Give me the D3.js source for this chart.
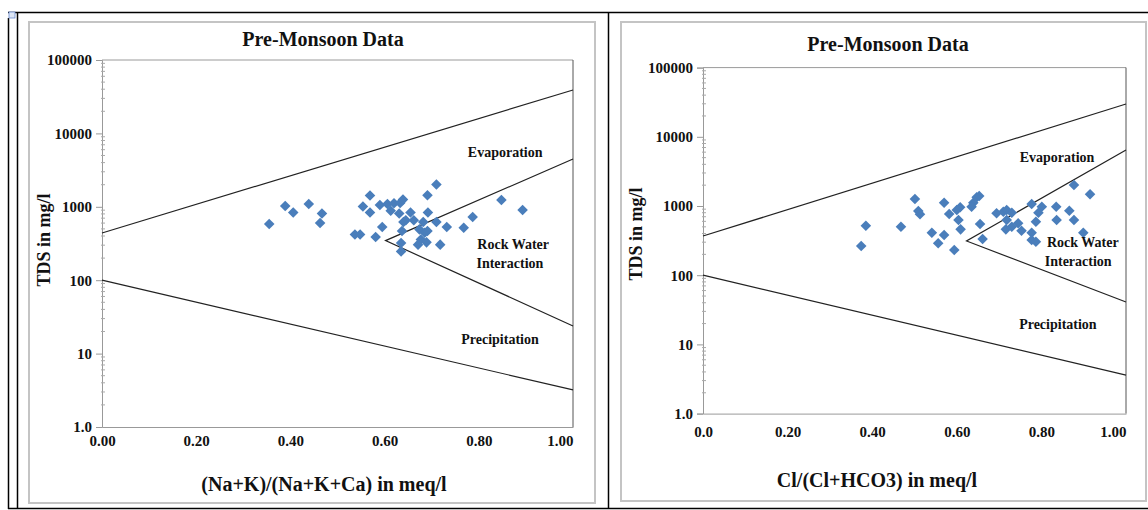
<!DOCTYPE html>
<html>
<head>
<meta charset="utf-8">
<script src="https://cdn.jsdelivr.net/npm/d3@7"></script>
<style>
body { margin: 0; background: #fff; }
text { font-family: "Liberation Serif", "Times New Roman", serif; font-weight: bold; fill: #111; }
</style>
</head>
<body>
<div id="chart"></div>
<script>
// Gibbs plots, pre-monsoon
var chartTitle = "Pre-Monsoon Data";
var yTitle = "TDS in mg/l";
var yTicks = [1, 10, 100, 1000, 10000, 100000];
var yTickLabels = ["1.0", "10", "100", "1000", "10000", "100000"];
var xTicks = [0, 0.2, 0.4, 0.6, 0.8, 1.0];
var xTickLabelsNa = ["0.00", "0.20", "0.40", "0.60", "0.80", "1.00"];
var xTickLabelsCl = ["0.0", "0.20", "0.40", "0.60", "0.80", "1.00"];
var zoneNames = ["Evaporation", "Rock Water", "Interaction", "Precipitation"];

// cation plot
var naRatio = [0.355, 0.389, 0.406, 0.439, 0.467, 0.463, 0.537, 0.548, 0.569, 0.554,
    0.569, 0.590, 0.606, 0.620, 0.633, 0.639, 0.691, 0.613, 0.631, 0.655,
    0.645, 0.662, 0.640, 0.692, 0.682, 0.710, 0.595, 0.637, 0.581, 0.674,
    0.685, 0.691, 0.677, 0.689, 0.671, 0.718, 0.635, 0.635, 0.732, 0.768,
    0.787, 0.848, 0.893, 0.710];
var naTds = [583, 1026, 836, 1091, 811, 601, 420, 420, 1426, 1012,
    836, 1059, 1091, 1117, 1127, 1253, 1439, 883, 811, 836,
    655, 655, 621, 836, 621, 621, 531, 468, 388, 492,
    443, 468, 358, 328, 305, 305, 321, 247, 531, 519,
    726, 1238, 904, 2018];
var naUpper = [[0, 440], [1, 39000]];
var naLower = [[0, 100], [1, 3.2]];
var naWedge = [[1, 4480], [0.602, 346], [1, 23.8]];

// anion plot
var clRatio = [0.385, 0.374, 0.468, 0.501, 0.509, 0.513, 0.541, 0.556, 0.570, 0.582,
    0.570, 0.594, 0.600, 0.608, 0.604, 0.609, 0.639, 0.647, 0.653, 0.635,
    0.655, 0.661, 0.694, 0.710, 0.718, 0.730, 0.718, 0.716, 0.730, 0.745,
    0.753, 0.777, 0.801, 0.793, 0.787, 0.777, 0.777, 0.787, 0.835, 0.836,
    0.866, 0.877, 0.877, 0.915, 0.899];
var clTds = [519, 264, 502, 1262, 847, 759, 411, 289, 1116, 766,
    381, 231, 875, 958, 628, 460, 1116, 1336, 1396, 977,
    550, 334, 785, 828, 875, 800, 628, 460, 502, 562,
    440, 1069, 977, 800, 593, 411, 323, 305, 977, 628,
    855, 628, 2009, 1475, 411];
var clUpper = [[0, 368], [1, 29800]];
var clLower = [[0, 100], [1, 3.6]];
var clWedge = [[1, 6440], [0.623, 312], [1, 41]];

var svg = d3.select("#chart")
    .append("svg")
    .attr("width", 1148)
    .attr("height", 510);

// table borders of the source document
var border = svg.append("g").attr("stroke", "#000").attr("stroke-width", 1.5);
border.append("line").attr("x1", 8).attr("x2", 1148).attr("y1", 12.5).attr("y2", 12.5);
border.append("line").attr("x1", 8).attr("x2", 1148).attr("y1", 508.5).attr("y2", 508.5);
border.append("line").attr("x1", 8.5).attr("x2", 8.5).attr("y1", 18).attr("y2", 509);
border.append("line").attr("x1", 17.5).attr("x2", 17.5).attr("y1", 12).attr("y2", 509);
border.append("line").attr("x1", 608.5).attr("x2", 608.5).attr("y1", 12).attr("y2", 509);
svg.append("rect").attr("x", 9).attr("y", 12).attr("width", 6).attr("height", 6)
    .attr("fill", "#dde6f5").attr("stroke", "#6c8ccf").attr("stroke-width", 0.8);

function drawChart(cfg) {
    var x = d3.scaleLinear().domain([0, 1]).range([cfg.left, cfg.right]),
        y = d3.scaleLog().domain([1, 100000]).range([cfg.bottom, cfg.top]);

    var g = svg.append("g");

    g.append("rect")
        .attr("x", cfg.frame[0]).attr("y", cfg.frame[1])
        .attr("width", cfg.frame[2] - cfg.frame[0])
        .attr("height", cfg.frame[3] - cfg.frame[1])
        .attr("fill", "#fff")
        .attr("stroke", "#c4c4c4")
        .attr("stroke-width", 2);

    // plot box: top grey, right dark
    g.append("line")
        .attr("x1", cfg.left).attr("x2", cfg.right)
        .attr("y1", cfg.top).attr("y2", cfg.top)
        .attr("stroke", "#9a9a9a");
    g.append("line")
        .attr("x1", cfg.right).attr("x2", cfg.right)
        .attr("y1", cfg.top).attr("y2", cfg.bottom)
        .attr("stroke", "#555");

    var yAxis = g.append("g")
        .attr("transform", "translate(" + cfg.left + ",0)")
        .call(d3.axisLeft(y)
            .tickValues(yTicks)
            .tickFormat(function (d, i) { return yTickLabels[i]; })
            .tickSize(6)
            .tickPadding(4))
        .attr("font-size", 15);
    yAxis.selectAll("path, line").attr("stroke", "#999");

    var minor = y.ticks().filter(function (d) { return yTicks.indexOf(d) < 0; });
    g.append("g").selectAll("line")
        .data(minor)
        .join("line")
        .attr("x1", cfg.left - 1).attr("x2", cfg.left + 3)
        .attr("y1", function (d) { return y(d); })
        .attr("y2", function (d) { return y(d); })
        .attr("stroke", "#aaa");

    var xAxis = g.append("g")
        .attr("transform", "translate(0," + cfg.bottom + ")")
        .call(d3.axisBottom(x)
            .tickValues(xTicks)
            .tickFormat(function (d, i) { return cfg.xLabels[i]; })
            .tickSize(0)
            .tickPadding(cfg.xPad))
        .attr("font-size", 15);
    xAxis.selectAll("path").attr("stroke", "#999");
    // last label sits inside the plot edge, as in the original
    xAxis.selectAll(".tick text")
        .filter(function (d) { return d === 1; })
        .attr("text-anchor", "end");

    var line = d3.line()
        .x(function (d) { return x(d[0]); })
        .y(function (d) { return y(d[1]); });

    cfg.lines.forEach(function (l) {
        g.append("path")
            .attr("d", line(l))
            .attr("fill", "none")
            .attr("stroke", "#222")
            .attr("stroke-width", 1.2);
    });

    g.append("g").selectAll("path")
        .data(d3.zip(cfg.xs, cfg.ys))
        .join("path")
        .attr("d", d3.symbol(d3.symbolSquare, 56))
        .attr("transform", function (d) {
            return "translate(" + x(d[0]) + "," + y(d[1]) + ") rotate(45)";
        })
        .attr("fill", "#4a7ebb");

    g.append("g").selectAll("text")
        .data(zoneNames)
        .join("text")
        .attr("x", function (d, i) { return x(cfg.zones[i][0]); })
        .attr("y", function (d, i) { return y(cfg.zones[i][1]); })
        .attr("dy", "0.35em")
        .attr("text-anchor", "middle")
        .attr("font-size", 14)
        .text(function (d) { return d; });

    g.append("text")
        .attr("x", cfg.titlePos[0]).attr("y", cfg.titlePos[1])
        .attr("text-anchor", "middle")
        .attr("font-size", 20)
        .text(chartTitle);

    g.append("text")
        .attr("transform", "translate(" + cfg.yTitlePos[0] + "," + cfg.yTitlePos[1] + ") rotate(-90)")
        .attr("text-anchor", "middle")
        .attr("dy", "0.35em")
        .attr("font-size", 18)
        .text(yTitle);

    g.append("text")
        .attr("x", cfg.xTitlePos[0]).attr("y", cfg.xTitlePos[1])
        .attr("text-anchor", "middle")
        .attr("font-size", 20)
        .text(cfg.xTitle);
}

drawChart({
    frame: [29, 22, 595, 503],
    left: 102, right: 573, top: 60, bottom: 427,
    xLabels: xTickLabelsNa, xPad: 8,
    xs: naRatio, ys: naTds,
    lines: [naUpper, naLower, naWedge],
    zones: [[0.856, 5580], [0.873, 311], [0.866, 171], [0.845, 15.8]],
    titlePos: [323, 46],
    yTitlePos: [44, 240],
    xTitlePos: [324, 491],
    xTitle: "(Na+K)/(Na+K+Ca) in meq/l"
});

drawChart({
    frame: [621, 22, 1146, 501],
    left: 703, right: 1126, top: 67.6, bottom: 413.6,
    xLabels: xTickLabelsCl, xPad: 13,
    xs: clRatio, ys: clTds,
    lines: [clUpper, clLower, clWedge],
    zones: [[0.837, 5100], [0.898, 302], [0.887, 160], [0.839, 19.7]],
    titlePos: [888, 51],
    yTitlePos: [636, 234],
    xTitlePos: [877, 487],
    xTitle: "Cl/(Cl+HCO3) in meq/l"
});
</script>
</body>
</html>
